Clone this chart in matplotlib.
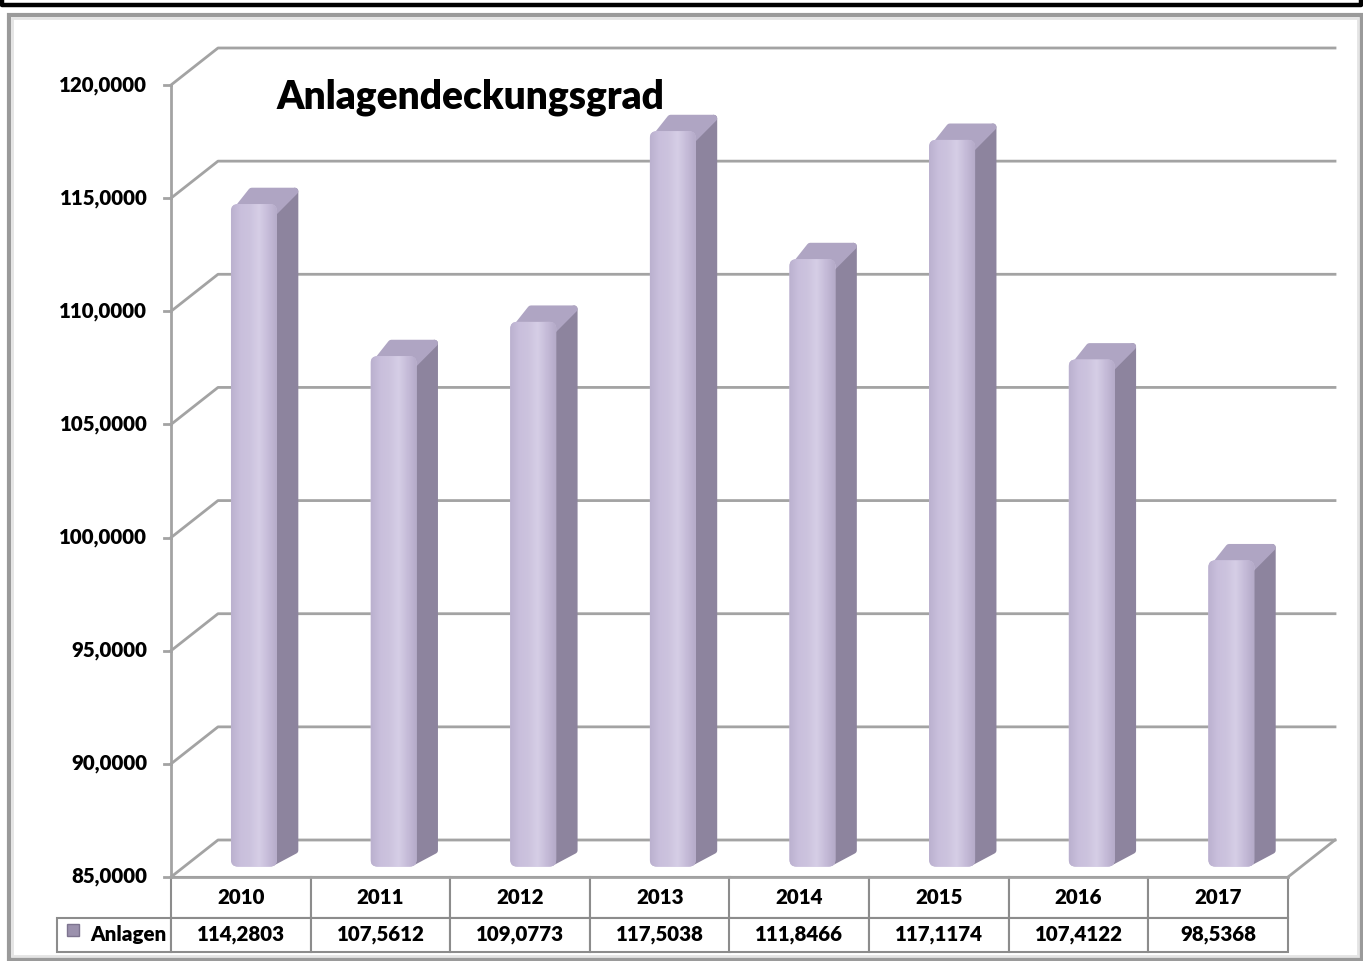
import numpy as np
import matplotlib
matplotlib.use("Agg")
import matplotlib.pyplot as plt
from matplotlib.patches import FancyBboxPatch, Polygon, Rectangle
from matplotlib.lines import Line2D
from matplotlib.colors import LinearSegmentedColormap

plt.rcParams['font.family'] = ['Lato', 'DejaVu Sans']

# data
years = ['2010', '2011', '2012', '2013', '2014', '2015', '2016', '2017']
anlagen = [114.2803, 107.5612, 109.0773, 117.5038, 111.8466, 117.1174, 107.4122, 98.5368]
yticks = [85, 90, 95, 100, 105, 110, 115, 120]
series_name = 'Anlagen'
title = 'Anlagendeckungsgrad'

W, H = 1363, 961
fig = plt.figure(figsize=(W / 100, H / 100), dpi=100)
fig.patch.set_facecolor('white')
FW = 'heavy'
FS = 14.8

def fx(px):
    return px / W

def fy(py):
    return 1 - py / H

def de(v):
    return '{:.4f}'.format(v).replace('.', ',')

# outer frames
fig.add_artist(Line2D([fx(1.5), fx(1.5), fx(1361), fx(1361)], [1.0, fy(5), fy(5), 1.0],
                      color='black', lw=3.2))
fig.add_artist(Rectangle((fx(9), fy(959)), (1361 - 9) / W, (959 - 15) / H, transform=fig.transFigure,
                         fill=False, edgecolor='#9a9a9a', lw=3.0))
fig.add_artist(Rectangle((fx(12), fy(956)), (1358 - 12) / W, (956 - 18) / H, transform=fig.transFigure,
                         fill=False, edgecolor='#e4e4e4', lw=2.0))

# front plane of the plot
left, right, bottom, top = 171, 1288, 877, 85
ax = fig.add_axes([fx(left), fy(bottom), (right - left) / W, (bottom - top) / H])
ax.set_xlim(-0.5, len(years) - 0.5)
ax.set_ylim(yticks[0], yticks[-1])
ax.axis('off')

xunit = (right - left) / len(years)
yunit = (bottom - top) / (yticks[-1] - yticks[0])
DX = 47 / xunit     # depth vector in data units
DY = 37 / yunit
x0, x1 = -0.5, len(years) - 0.5
grid_c = '#a3a3a3'

# walls / gridlines
for v in yticks:
    ax.plot([x0, x0 + DX, x1 + DX], [v, v + DY, v + DY], color=grid_c, lw=2, clip_on=False, zorder=1)
    ax.annotate(de(v), (x0, v), xytext=(-17, 0), textcoords='offset points', ha='right', va='center',
                fontsize=FS, fontweight=FW, annotation_clip=False)
    ax.plot([x0 - 7 / xunit, x0], [v, v], color=grid_c, lw=2, clip_on=False, zorder=1)
ax.plot([x0, x0], [yticks[0], yticks[-1]], color=grid_c, lw=2, clip_on=False, zorder=1)
ax.plot([x1, x1 + DX], [yticks[0], yticks[0] + DY], color=grid_c, lw=2, clip_on=False, zorder=1)
ax.plot([x0, x1], [yticks[0], yticks[0]], color=grid_c, lw=2, clip_on=False, zorder=1)

# bars
f0, f1 = 0.28, 0.72
bw = 46 / xunit
base = yticks[0]
face_cmap = LinearSegmentedColormap.from_list(
    'face', ['#bbb1cf', '#c9bfdc', '#ccc3de', '#d6cee6', '#c6bcd9', '#b5abc9'])
grad = np.linspace(0, 1, 64).reshape(1, -1)
for i, v in enumerate(anlagen):
    xl = i - bw / 2 + f0 * DX
    xr = xl + bw
    yb = base + f0 * DY
    yt = v + f0 * DY
    ddx, ddy = (f1 - f0) * DX, (f1 - f0) * DY
    side = Polygon([(xr - 0.03, yb + 0.2), (xr - 0.03, yt), (xr + ddx - 0.02, yt + ddy - 0.15),
                    (xr + ddx - 0.02, yb + ddy)],
                   closed=True, facecolor='#8d849e', edgecolor='#8d849e', lw=5, joinstyle='round',
                   zorder=3, clip_on=False)
    ax.add_patch(side)
    topf = Polygon([(xl + 0.03, yt - 0.35), (xr - 0.02, yt - 0.35), (xr + ddx - 0.02, yt + ddy - 0.15),
                    (xl + ddx, yt + ddy - 0.15)],
                   closed=True, facecolor='#afa5c3', edgecolor='#afa5c3', lw=5, joinstyle='round',
                   zorder=3.2, clip_on=False)
    ax.add_patch(topf)
    front = FancyBboxPatch((xl, yb), bw, v - base, boxstyle='round,pad=0,rounding_size=0.05',
                           mutation_aspect=xunit / yunit, facecolor='#c9bfdc', edgecolor='none',
                           zorder=4, clip_on=False)
    ax.add_patch(front)
    im = ax.imshow(grad, extent=[xl, xr, yb, yt], aspect='auto', cmap=face_cmap, zorder=4.5,
                   interpolation='bilinear')
    im.set_clip_path(front)

ax.set_xlim(x0, x1)
ax.set_ylim(yticks[0], yticks[-1])

# title
fig.text(fx(277), fy(108), title, fontsize=28, fontweight=FW, va='baseline')

# data table
vals = [de(v) for v in anlagen]
cell_text = [[''] + years, [series_name] + vals]
lw_px = 114
col_w = [lw_px] + [xunit] * len(years)
tab = ax.table(cellText=cell_text, colWidths=col_w, cellLoc='center',
               bbox=[-lw_px / (right - left), -(952 - 877) / (bottom - top),
                     (right - left + lw_px) / (right - left), (952 - 877) / (bottom - top)])
tab.auto_set_font_size(False)
tab.set_fontsize(FS)
for (r, c), cell in tab.get_celld().items():
    cell.set_edgecolor('#8c8c8c')
    cell.set_linewidth(1.5)
    cell.set_height(41 if r == 0 else 34)
    cell.get_text().set_fontweight(FW)
    if r == 0 and c == 0:
        cell.visible_edges = ''
    if r == 1 and c == 0:
        cell.get_text().set_ha('right')
        cell.PAD = 0.04
tab[(1, 0)]._loc = 'right'

# legend key in the table
ax.plot([(73 - left) / (right - left)], [-(930 - 877) / (bottom - top)], marker='s', ms=8.5,
        color='#9b91ad', mec='#7d748f', transform=ax.transAxes, clip_on=False)

fig.savefig('out.png', dpi=100)
